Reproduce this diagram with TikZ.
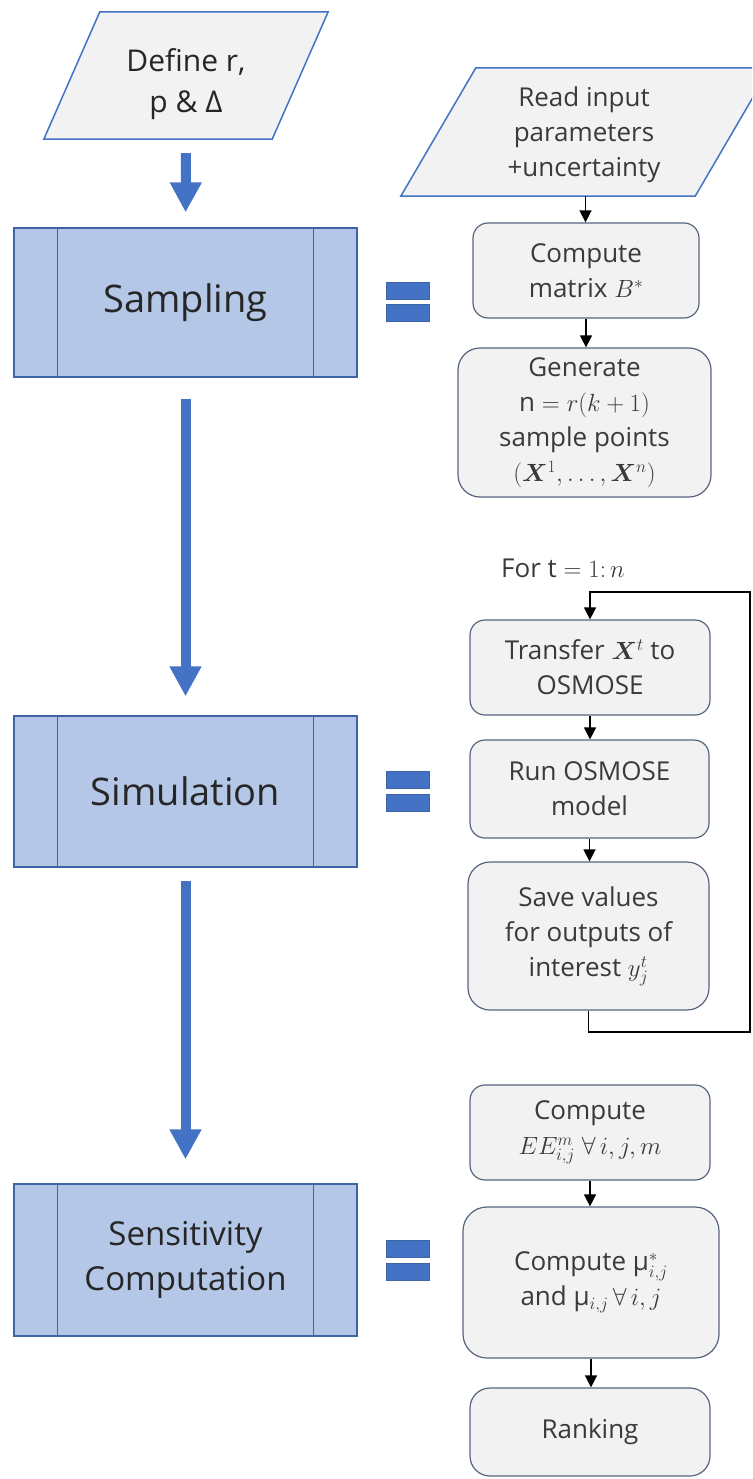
\documentclass[tikz,border=0pt]{standalone}
\usepackage{bm}
\usepackage{fontspec}
\setmainfont{Open Sans}
\usetikzlibrary{arrows.meta,calc}
\definecolor{boxblue}{HTML}{B4C7E7}
\definecolor{edgeblue}{HTML}{3E64A8}
\definecolor{arrowblue}{HTML}{4472C4}
\definecolor{paragray}{HTML}{F2F2F2}
\definecolor{slate}{HTML}{56657E}
\definecolor{txtdark}{HTML}{262626}
\definecolor{txtgray}{HTML}{3A3A3A}
\begin{document}
\begin{tikzpicture}[x=1pt,y=-1pt,
  phase/.style={draw=edgeblue, line width=1.3pt, fill=boxblue, minimum width=343pt, inner sep=0pt, text=txtdark, align=center},
  para/.style={draw=arrowblue, line width=1.5pt, fill=paragray},
  stepbox/.style={draw=slate, line width=1.2pt, fill=paragray, rounded corners=15pt, inner sep=0pt, text=txtgray, align=center, font=\fontsize{26}{35}\selectfont},
  bigarrow/.style={draw=arrowblue, line width=10pt, -{Triangle[width=30pt,length=30pt]}},
  blk/.style={draw=black, line width=1.4pt, -{Triangle[width=12pt,length=12pt]}},
  eqbar/.style={draw=edgeblue, line width=0.8pt, fill=arrowblue, minimum width=43pt, minimum height=17pt, inner sep=0pt},
  txt/.style={inner sep=0pt, align=center}
]
\useasboundingbox (0,0) rectangle (752,1479);
\clip (0,0) rectangle (752,1479);

% ---------- left column ----------
\node[minimum width=284pt, minimum height=127pt, inner sep=0pt] (def) at (186,75.5) {};
\draw[para] (def.south west) -- ($(def.south east)+(-56,0)$) -- (def.north east) -- ($(def.north west)+(56,0)$) -- cycle;
\node[txt, text=txtdark, font=\fontsize{30}{41}\selectfont] (deft) at (186,84) {Define r,\\p \& Δ};

\node[phase, minimum height=149pt, font=\fontsize{38}{44}\selectfont] (samp) at (185.5,302.5) {Sampling};
\node[phase, minimum height=151pt, font=\fontsize{38}{44}\selectfont] (sim) at (185.5,791.5) {Simulation};
\node[phase, minimum height=152pt, font=\fontsize{33}{45}\selectfont] (sens) at (185.5,1260) {Sensitivity\\Computation};
\foreach \b in {samp,sim,sens}{
  \draw[edgeblue, line width=1.3pt] ($(\b.north west)+(44,0)$) -- ($(\b.south west)+(44,0)$);
  \draw[edgeblue, line width=1.3pt] ($(\b.north east)+(-44,0)$) -- ($(\b.south east)+(-44,0)$);
}

\draw[bigarrow, shorten <=14pt, shorten >=15pt] (def.south) -- (samp.north);
\draw[bigarrow, shorten <=21pt, shorten >=19pt] (samp.south) -- (sim.north);
\draw[bigarrow, shorten <=13pt, shorten >=24pt] (sim.south) -- (sens.north);

% ---------- equal signs ----------
\node[eqbar] (eq1a) at (407.5,290.5) {};
\node[eqbar] (eq1b) at (407.5,313) {};
\node[eqbar] (eq2a) at (407.5,779.5) {};
\node[eqbar] (eq2b) at (407.5,802.5) {};
\node[eqbar] (eq3a) at (407.5,1248.5) {};
\node[eqbar] (eq3b) at (407.5,1271.5) {};

% ---------- right column: sampling ----------
\node[minimum width=369pt, minimum height=128pt, inner sep=0pt] (read) at (585.5,132) {};
\draw[para] (read.south west) -- ($(read.south east)+(-75,0)$) -- (read.north east) -- ($(read.north west)+(75,0)$) -- cycle;
\node[txt, text=txtgray, font=\fontsize{26}{35}\selectfont] (readt) at (584,135) {Read input\\parameters\\+uncertainty};

\node[stepbox, minimum width=226pt, minimum height=95pt] (cb) at (586,270.5) {Compute\\matrix $B^{*}$};
\node[stepbox, rounded corners=22pt, minimum width=253pt, minimum height=149pt] (gen) at (584.5,422.5) {Generate\\$\mathrm{n}=r(k+1)$\\sample points\\$(\bm{X}^{1},\dots,\bm{X}^{n})$};

\draw[blk] (read.south) -- (read.south |- cb.north);
\draw[blk] (cb.south) -- (cb.south |- gen.north);

% ---------- right column: simulation ----------
\node[txt, text=txtgray, font=\fontsize{26}{35}\selectfont] (fort) at (563,568) {For t $=1{:}\,n$};

\node[stepbox, minimum width=240pt, minimum height=95pt] (tr) at (590,667.5) {Transfer $\bm{X}^{t}$ to\\OSMOSE};
\node[stepbox, minimum width=239pt, minimum height=98pt] (run) at (589.5,789) {Run OSMOSE\\model};
\node[stepbox, rounded corners=22pt, minimum width=241pt, minimum height=148pt] (save) at (588.5,936) {Save values\\for outputs of\\interest $y_{j}^{t}$};

\draw[blk] (tr.south) -- (tr.south |- run.north);
\draw[blk] (run.south) -- (run.south |- save.north);

\coordinate (lb) at (750,1032);
\coordinate (lt) at (750,592);
\draw[blk] (save.south) |- (lb) -- (lt) -| (tr.north);

% ---------- right column: sensitivity ----------
\node[stepbox, minimum width=240pt, minimum height=95pt] (ee) at (590,1132.5) {Compute\\$EE_{i,j}^{m}\ \forall\, i,j,m$};
\node[stepbox, rounded corners=24pt, minimum width=256pt, minimum height=151pt] (mu) at (591,1282.5) {Compute μ$^{*}_{i,j}$\\and μ$_{i,j}\,\forall\, i,j$};
\node[stepbox, rounded corners=20pt, minimum width=240pt, minimum height=88pt] (rank) at (590,1432) {Ranking};

\draw[blk] (ee.south) -- (ee.south |- mu.north);
\draw[blk] (mu.south) -- (mu.south |- rank.north);
\end{tikzpicture}
\end{document}
